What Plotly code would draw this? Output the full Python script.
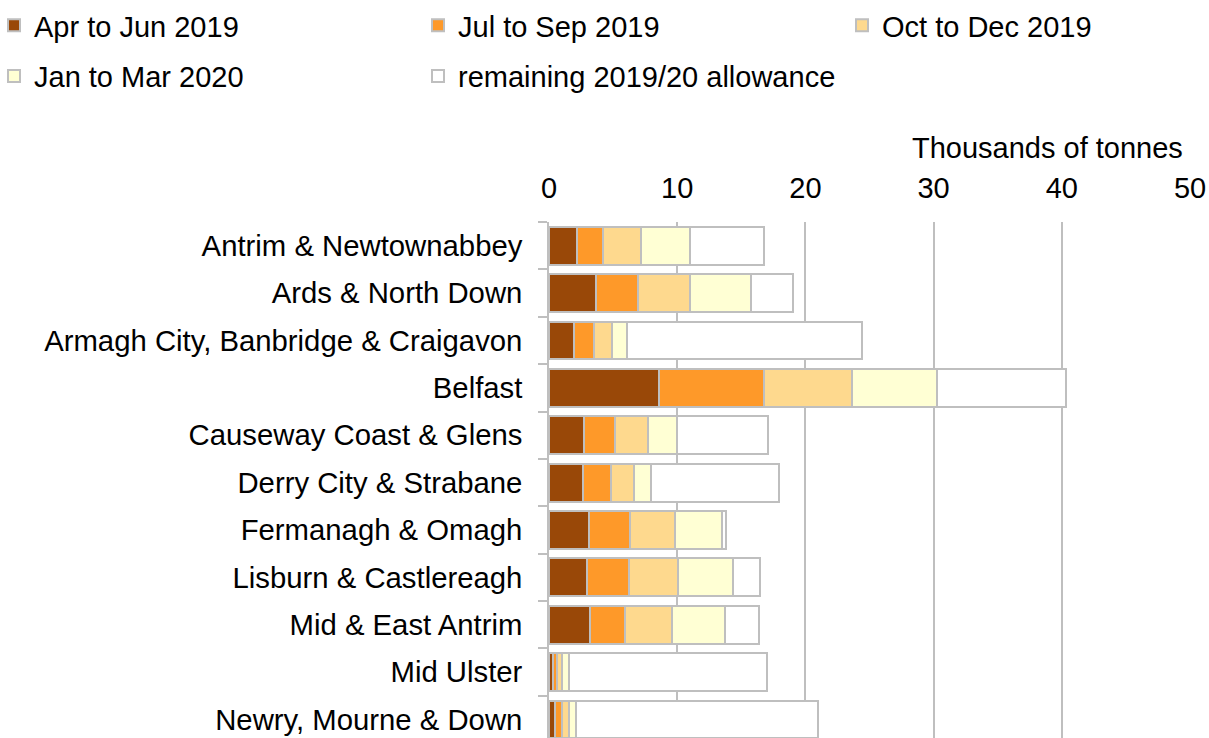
import plotly.graph_objects as go

councils = [
    "Antrim & Newtownabbey", "Ards & North Down", "Armagh City, Banbridge & Craigavon",
    "Belfast", "Causeway Coast & Glens", "Derry City & Strabane", "Fermanagh & Omagh",
    "Lisburn & Castlereagh", "Mid & East Antrim", "Mid Ulster", "Newry, Mourne & Down",
]
apr_jun_2019 = [2.18, 3.63, 1.97, 8.59, 2.73, 2.67, 3.14, 2.96, 3.16, 0.30, 0.45]
jul_sep_2019 = [2.03, 3.32, 1.56, 8.18, 2.41, 2.16, 3.19, 3.27, 2.76, 0.35, 0.59]
oct_dec_2019 = [2.98, 4.08, 1.40, 6.88, 2.62, 1.81, 3.48, 3.82, 3.68, 0.39, 0.50]
jan_mar_2020 = [3.79, 4.75, 1.19, 6.64, 2.23, 1.35, 3.69, 4.33, 4.11, 0.49, 0.59]
remaining_allowance = [5.81, 3.27, 18.30, 10.00, 7.09, 9.97, 0.31, 2.10, 2.69, 15.45, 18.82]

x_ticks = [0, 10, 20, 30, 40, 50]

series = [
    ("Apr to Jun 2019", apr_jun_2019, "#994808", "legend"),
    ("Jul to Sep 2019", jul_sep_2019, "#fe9929", "legend2"),
    ("Oct to Dec 2019", oct_dec_2019, "#fed98e", "legend3"),
    ("Jan to Mar 2020", jan_mar_2020, "#ffffd4", "legend"),
    ("remaining 2019/20 allowance", remaining_allowance, "#ffffff", "legend2"),
]

W, H = 1209, 738
L, R, T, B = 549, 19, 222, 0
pw, ph = W - L - R, H - T - B

def px(p):
    return (p - L) / pw

def py(q):
    return (H - B - q) / ph

FONT = "Liberation Sans, Arial, sans-serif"
FS = 29
FS_Y = 29.3

fig = go.Figure()
for name, vals, col, lg in series:
    fig.add_trace(go.Bar(
        y=councils, x=vals, name=name, orientation="h",
        marker=dict(color=col, line=dict(color="#bfbfbf", width=2)),
        legend=lg, legendgroup=name,
    ))

legend_common = dict(
    orientation="v", yanchor="top", xanchor="left",
    font=dict(family=FONT, size=FS, color="#000000"),
    bgcolor="rgba(0,0,0,0)", tracegroupgap=10, traceorder="grouped",
    itemclick=False,
)

fig.update_layout(
    width=W, height=H,
    margin=dict(l=L, r=R, t=T, b=B, pad=0, autoexpand=False),
    barmode="stack", bargap=0.2,
    plot_bgcolor="#ffffff", paper_bgcolor="#ffffff",
    font=dict(family=FONT, size=FS, color="#000000"),
    showlegend=True,
    legend=dict(x=px(-6), y=py(0), **legend_common),
    legend2=dict(x=px(418), y=py(0), **legend_common),
    legend3=dict(x=px(842), y=py(0), **legend_common),
    xaxis=dict(
        side="top", range=[0, 50], tickvals=x_ticks, ticktext=[str(v) for v in x_ticks],
        showgrid=True, gridcolor="#bfbfbf", gridwidth=1.5,
        zeroline=False, showline=False, ticks="", automargin=False,
        tickfont=dict(family=FONT, size=FS, color="#000000"),
        ticklabelstandoff=17,
    ),
    yaxis=dict(
        type="category", categoryorder="array", categoryarray=councils,
        range=[10.39, -0.5], automargin=False,
        showline=True, linecolor="#bfbfbf", linewidth=1.5,
        ticks="outside", tickson="boundaries", ticklen=9, tickcolor="#bfbfbf", tickwidth=1.5,
        showgrid=False, zeroline=False,
        tickfont=dict(family=FONT, size=FS_Y, color="#000000"),
        ticklabelstandoff=19,
    ),
    annotations=[
        dict(text="Thousands of tonnes", xref="paper", yref="paper",
             x=px(1047), y=py(148), xanchor="center", yanchor="middle",
             showarrow=False, font=dict(family=FONT, size=FS, color="#000000")),
    ],
)

fig.write_html(
    "out.html",
    config={"displayModeBar": False},
    post_script="document.body.style.margin='0';document.body.style.padding='0';document.body.style.overflow='hidden';",
)
